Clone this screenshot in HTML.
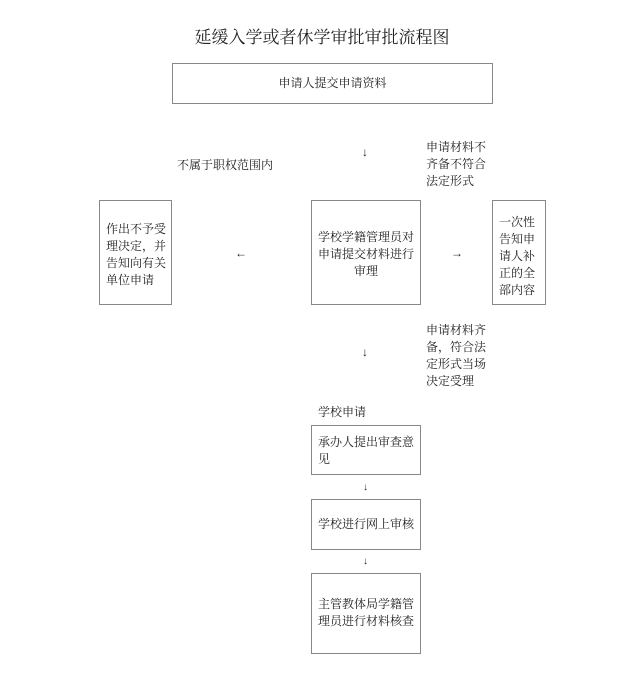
<!DOCTYPE html>
<html><head><meta charset="utf-8"><style>
body{margin:0;width:624px;height:687px;background:#fff;position:relative;overflow:hidden;font-family:"Liberation Serif","Noto Serif CJK SC",serif;color:#222;}
.a{position:absolute;font-size:12px;line-height:17px;}
.b{position:absolute;border:1px solid #888;box-sizing:border-box;font-size:12px;line-height:17px;}
</style></head><body>
<div class="a" style="left:160px;top:27px;width:324px;text-align:center;font-size:17px;line-height:22px;">延缓入学或者休学审批审批流程图</div>
<div class="b" style="left:172px;top:63px;width:321px;height:41px;text-align:center;padding-top:11px;">申请人提交申请资料</div>
<div class="a" style="left:362px;top:144px;">↓</div>
<div class="a" style="left:177px;top:157px;">不属于职权范围内</div>
<div class="a" style="left:426px;top:139px;width:64px;">申请材料不齐备不符合法定形式</div>
<div class="b" style="left:99px;top:200px;width:73px;height:105px;padding:20px 0 0 6px;">作出不予受理决定，并告知向有关单位申请</div>
<div class="a" style="left:235px;top:245px;">←</div>
<div class="b" style="left:311px;top:200px;width:110px;height:105px;padding:28px 4px 0 4px;text-align:center;">学校学籍管理员对申请提交材料进行审理</div>
<div class="a" style="left:451px;top:245px;">→</div>
<div class="b" style="left:492px;top:200px;width:54px;height:105px;padding:13px 0 0 6px;">一次性告知申请人补正的全部内容</div>
<div class="a" style="left:426px;top:322px;width:64px;">申请材料齐备，符合法定形式当场决定受理</div>
<div class="a" style="left:362px;top:344px;">↓</div>
<div class="a" style="left:318px;top:404px;">学校申请</div>
<div class="b" style="left:311px;top:425px;width:110px;height:50px;padding:8px 4px 0 6px;">承办人提出审查意见</div>
<div class="a" style="left:363px;top:479px;font-size:10px;">↓</div>
<div class="b" style="left:311px;top:499px;width:110px;height:51px;padding:16px 0 0 6px;">学校进行网上审核</div>
<div class="a" style="left:363px;top:553px;font-size:10px;">↓</div>
<div class="b" style="left:311px;top:573px;width:110px;height:81px;padding:22px 2px 0 6px;">主管教体局学籍管理员进行材料核查</div>
</body></html>
